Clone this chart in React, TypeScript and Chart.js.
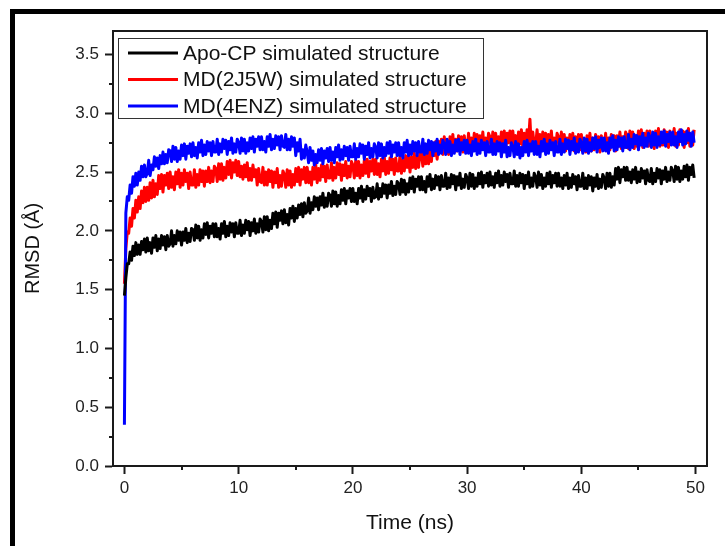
import React, { useEffect, useRef } from "react";
import { Chart, registerables } from "chart.js";

Chart.register(...registerables);

// ---- data (RMSD in Å, sampled every SAMPLE_INTERVAL_NS ns starting at 0 ns) ----
const SAMPLE_INTERVAL_NS = 0.125;

const SERIES_LABELS = [
  "Apo-CP simulated structure",
  "MD(2J5W) simulated structure",
  "MD(4ENZ) simulated structure",
];
const SERIES_COLORS = ["#000000", "#ff0000", "#0000ff"];

const APO_CP = [
  1.45, 1.60, 1.72, 1.72, 1.82, 1.75, 1.87, 1.79, 1.90, 1.80, 1.88, 1.80, 1.91, 1.84, 1.93, 1.82,
  1.94, 1.83, 1.90, 1.81, 1.94, 1.86, 1.96, 1.83, 1.93, 1.85, 1.96, 1.88, 1.95, 1.84, 1.96, 1.87,
  1.89, 2.00, 1.87, 1.96, 1.89, 2.00, 1.92, 1.99, 1.88, 1.99, 1.92, 2.02, 1.90, 1.98, 1.91, 2.02,
  2.01, 1.92, 2.05, 1.94, 2.04, 1.92, 2.01, 1.94, 2.06, 1.97, 2.07, 1.94, 2.04, 1.98, 2.06, 1.95,
  2.06, 1.95, 2.02, 1.93, 2.06, 1.98, 2.08, 1.95, 2.04, 1.96, 2.07, 1.99, 2.06, 1.95, 2.07, 1.98,
  1.98, 2.09, 1.96, 2.05, 1.98, 2.09, 2.01, 2.08, 1.96, 2.07, 2.00, 2.10, 1.98, 2.06, 1.99, 2.10,
  2.08, 1.99, 2.12, 2.01, 2.12, 2.00, 2.09, 2.02, 2.15, 2.06, 2.16, 2.03, 2.15, 2.09, 2.17, 2.06,
  2.18, 2.07, 2.14, 2.05, 2.19, 2.11, 2.21, 2.08, 2.19, 2.11, 2.22, 2.14, 2.23, 2.12, 2.24, 2.15,
  2.17, 2.28, 2.15, 2.24, 2.18, 2.29, 2.21, 2.28, 2.18, 2.29, 2.22, 2.32, 2.20, 2.28, 2.21, 2.32,
  2.30, 2.21, 2.34, 2.23, 2.33, 2.21, 2.30, 2.23, 2.35, 2.26, 2.36, 2.23, 2.34, 2.28, 2.36, 2.25,
  2.36, 2.25, 2.32, 2.23, 2.36, 2.28, 2.38, 2.25, 2.35, 2.27, 2.38, 2.30, 2.36, 2.25, 2.37, 2.28,
  2.29, 2.40, 2.27, 2.36, 2.29, 2.40, 2.32, 2.39, 2.28, 2.39, 2.32, 2.42, 2.30, 2.38, 2.31, 2.42,
  2.40, 2.31, 2.44, 2.33, 2.43, 2.31, 2.40, 2.33, 2.45, 2.36, 2.46, 2.33, 2.44, 2.38, 2.46, 2.35,
  2.46, 2.35, 2.42, 2.33, 2.46, 2.38, 2.48, 2.35, 2.44, 2.36, 2.47, 2.39, 2.46, 2.35, 2.47, 2.38,
  2.38, 2.49, 2.36, 2.45, 2.37, 2.48, 2.40, 2.47, 2.35, 2.46, 2.39, 2.49, 2.36, 2.44, 2.37, 2.48,
  2.45, 2.36, 2.49, 2.38, 2.48, 2.36, 2.45, 2.38, 2.49, 2.40, 2.50, 2.37, 2.47, 2.41, 2.49, 2.38,
  2.50, 2.39, 2.46, 2.37, 2.49, 2.41, 2.51, 2.38, 2.47, 2.39, 2.50, 2.42, 2.48, 2.37, 2.49, 2.40,
  2.40, 2.51, 2.38, 2.47, 2.38, 2.49, 2.41, 2.48, 2.36, 2.47, 2.40, 2.50, 2.37, 2.45, 2.38, 2.49,
  2.46, 2.37, 2.50, 2.39, 2.48, 2.36, 2.45, 2.38, 2.49, 2.40, 2.50, 2.37, 2.47, 2.41, 2.49, 2.38,
  2.49, 2.38, 2.45, 2.36, 2.47, 2.39, 2.49, 2.36, 2.45, 2.37, 2.48, 2.40, 2.46, 2.35, 2.47, 2.38,
  2.38, 2.49, 2.36, 2.45, 2.36, 2.47, 2.39, 2.46, 2.34, 2.45, 2.38, 2.48, 2.36, 2.44, 2.37, 2.48,
  2.45, 2.36, 2.49, 2.38, 2.49, 2.37, 2.46, 2.39, 2.53, 2.44, 2.54, 2.41, 2.52, 2.46, 2.54, 2.43,
  2.54, 2.43, 2.50, 2.41, 2.52, 2.44, 2.54, 2.41, 2.50, 2.42, 2.53, 2.45, 2.51, 2.40, 2.52, 2.43,
  2.42, 2.53, 2.40, 2.49, 2.42, 2.53, 2.45, 2.52, 2.40, 2.51, 2.44, 2.54, 2.42, 2.50, 2.43, 2.54,
  2.51, 2.42, 2.55, 2.44, 2.54, 2.42, 2.51, 2.44, 2.55, 2.46, 2.56, 2.43, 2.54, 2.48, 2.56, 2.45,
];

const MD_2J5W = [
  1.55, 1.85, 1.99, 1.98, 2.11, 2.04, 2.19, 2.11, 2.26, 2.16, 2.29, 2.19, 2.34, 2.24, 2.37, 2.25,
  2.37, 2.26, 2.41, 2.28, 2.43, 2.29, 2.40, 2.31, 2.47, 2.36, 2.48, 2.33, 2.47, 2.39, 2.49, 2.36,
  2.50, 2.37, 2.46, 2.35, 2.50, 2.40, 2.52, 2.37, 2.49, 2.39, 2.52, 2.42, 2.49, 2.36, 2.50, 2.39,
  2.39, 2.52, 2.37, 2.48, 2.39, 2.52, 2.42, 2.51, 2.38, 2.51, 2.42, 2.54, 2.41, 2.51, 2.42, 2.55,
  2.53, 2.42, 2.57, 2.44, 2.57, 2.43, 2.54, 2.45, 2.59, 2.48, 2.60, 2.45, 2.58, 2.50, 2.60, 2.47,
  2.59, 2.46, 2.55, 2.44, 2.56, 2.46, 2.58, 2.43, 2.53, 2.43, 2.56, 2.46, 2.52, 2.39, 2.53, 2.42,
  2.41, 2.54, 2.39, 2.50, 2.39, 2.52, 2.42, 2.51, 2.37, 2.50, 2.41, 2.53, 2.37, 2.47, 2.38, 2.51,
  2.48, 2.37, 2.52, 2.39, 2.51, 2.37, 2.48, 2.39, 2.53, 2.42, 2.54, 2.39, 2.52, 2.44, 2.54, 2.41,
  2.54, 2.41, 2.50, 2.39, 2.54, 2.44, 2.56, 2.41, 2.53, 2.43, 2.56, 2.46, 2.55, 2.42, 2.56, 2.45,
  2.45, 2.58, 2.43, 2.54, 2.45, 2.58, 2.48, 2.57, 2.43, 2.56, 2.47, 2.59, 2.45, 2.55, 2.46, 2.59,
  2.56, 2.45, 2.60, 2.47, 2.59, 2.45, 2.56, 2.47, 2.60, 2.49, 2.61, 2.46, 2.59, 2.51, 2.61, 2.48,
  2.61, 2.48, 2.57, 2.46, 2.61, 2.51, 2.63, 2.48, 2.59, 2.49, 2.62, 2.52, 2.61, 2.48, 2.62, 2.51,
  2.51, 2.64, 2.49, 2.60, 2.51, 2.64, 2.54, 2.63, 2.50, 2.63, 2.54, 2.66, 2.53, 2.63, 2.54, 2.67,
  2.66, 2.55, 2.70, 2.57, 2.71, 2.57, 2.68, 2.59, 2.75, 2.64, 2.76, 2.61, 2.76, 2.68, 2.78, 2.65,
  2.80, 2.67, 2.76, 2.65, 2.80, 2.70, 2.82, 2.67, 2.78, 2.68, 2.81, 2.71, 2.80, 2.67, 2.81, 2.70,
  2.70, 2.83, 2.68, 2.79, 2.70, 2.83, 2.73, 2.82, 2.68, 2.81, 2.72, 2.84, 2.69, 2.79, 2.70, 2.83,
  2.80, 2.69, 2.84, 2.71, 2.83, 2.69, 2.80, 2.71, 2.84, 2.73, 2.85, 2.70, 2.83, 2.75, 2.85, 2.72,
  2.85, 2.72, 2.81, 2.70, 2.84, 2.74, 2.86, 2.71, 2.83, 2.73, 2.86, 2.76, 2.95, 2.70, 2.84, 2.73,
  2.73, 2.86, 2.71, 2.82, 2.71, 2.84, 2.74, 2.83, 2.69, 2.82, 2.73, 2.85, 2.69, 2.79, 2.70, 2.83,
  2.80, 2.69, 2.84, 2.71, 2.82, 2.68, 2.79, 2.70, 2.82, 2.71, 2.83, 2.68, 2.80, 2.72, 2.82, 2.69,
  2.82, 2.69, 2.78, 2.67, 2.81, 2.71, 2.83, 2.68, 2.79, 2.69, 2.82, 2.72, 2.80, 2.67, 2.81, 2.70,
  2.70, 2.83, 2.68, 2.79, 2.69, 2.82, 2.72, 2.81, 2.68, 2.81, 2.72, 2.84, 2.70, 2.80, 2.71, 2.84,
  2.81, 2.70, 2.85, 2.72, 2.84, 2.70, 2.81, 2.72, 2.85, 2.74, 2.86, 2.71, 2.83, 2.75, 2.85, 2.72,
  2.85, 2.72, 2.81, 2.70, 2.85, 2.75, 2.87, 2.72, 2.83, 2.73, 2.86, 2.76, 2.84, 2.71, 2.85, 2.74,
  2.74, 2.87, 2.72, 2.83, 2.73, 2.86, 2.76, 2.85, 2.71, 2.84, 2.75, 2.87, 2.72, 2.82, 2.73, 2.86,
];

const MD_4ENZ = [
  0.35, 2.15, 2.29, 2.26, 2.39, 2.32, 2.46, 2.38, 2.49, 2.39, 2.50, 2.43, 2.55, 2.46, 2.56, 2.46,
  2.49, 2.60, 2.47, 2.56, 2.52, 2.63, 2.55, 2.62, 2.53, 2.64, 2.57, 2.67, 2.57, 2.65, 2.58, 2.69,
  2.68, 2.59, 2.72, 2.61, 2.71, 2.59, 2.68, 2.61, 2.73, 2.64, 2.74, 2.61, 2.72, 2.66, 2.74, 2.63,
  2.75, 2.64, 2.71, 2.62, 2.75, 2.67, 2.77, 2.64, 2.73, 2.65, 2.76, 2.68, 2.75, 2.64, 2.76, 2.67,
  2.67, 2.78, 2.65, 2.74, 2.67, 2.78, 2.70, 2.77, 2.65, 2.76, 2.69, 2.79, 2.66, 2.74, 2.67, 2.78,
  2.75, 2.66, 2.79, 2.68, 2.78, 2.66, 2.75, 2.68, 2.79, 2.70, 2.80, 2.67, 2.78, 2.72, 2.80, 2.69,
  2.80, 2.69, 2.76, 2.67, 2.80, 2.72, 2.82, 2.69, 2.78, 2.70, 2.81, 2.73, 2.80, 2.69, 2.81, 2.72,
  2.71, 2.82, 2.69, 2.78, 2.69, 2.80, 2.72, 2.79, 2.64, 2.75, 2.68, 2.78, 2.61, 2.69, 2.62, 2.73,
  2.67, 2.58, 2.71, 2.60, 2.68, 2.56, 2.65, 2.58, 2.69, 2.60, 2.70, 2.57, 2.68, 2.62, 2.70, 2.59,
  2.71, 2.60, 2.67, 2.58, 2.71, 2.63, 2.73, 2.60, 2.69, 2.61, 2.72, 2.64, 2.71, 2.60, 2.72, 2.63,
  2.63, 2.74, 2.61, 2.70, 2.63, 2.74, 2.66, 2.73, 2.61, 2.72, 2.65, 2.75, 2.62, 2.70, 2.63, 2.74,
  2.71, 2.62, 2.75, 2.64, 2.74, 2.62, 2.71, 2.64, 2.75, 2.66, 2.76, 2.63, 2.73, 2.67, 2.75, 2.64,
  2.75, 2.64, 2.71, 2.62, 2.75, 2.67, 2.77, 2.64, 2.73, 2.65, 2.76, 2.68, 2.75, 2.64, 2.76, 2.67,
  2.67, 2.78, 2.65, 2.74, 2.66, 2.77, 2.69, 2.76, 2.64, 2.75, 2.68, 2.78, 2.65, 2.73, 2.66, 2.77,
  2.74, 2.65, 2.78, 2.67, 2.76, 2.64, 2.73, 2.66, 2.77, 2.68, 2.78, 2.65, 2.75, 2.69, 2.77, 2.66,
  2.77, 2.66, 2.73, 2.64, 2.76, 2.68, 2.78, 2.65, 2.74, 2.66, 2.77, 2.69, 2.75, 2.64, 2.76, 2.67,
  2.67, 2.78, 2.65, 2.74, 2.65, 2.76, 2.68, 2.75, 2.63, 2.74, 2.67, 2.77, 2.63, 2.71, 2.64, 2.75,
  2.72, 2.63, 2.76, 2.65, 2.74, 2.62, 2.71, 2.64, 2.76, 2.67, 2.77, 2.64, 2.74, 2.68, 2.76, 2.65,
  2.76, 2.65, 2.72, 2.63, 2.76, 2.68, 2.78, 2.65, 2.74, 2.66, 2.77, 2.69, 2.75, 2.64, 2.76, 2.67,
  2.67, 2.78, 2.65, 2.74, 2.67, 2.78, 2.70, 2.77, 2.65, 2.76, 2.69, 2.79, 2.66, 2.74, 2.67, 2.78,
  2.75, 2.66, 2.79, 2.68, 2.78, 2.66, 2.75, 2.68, 2.79, 2.70, 2.80, 2.67, 2.77, 2.71, 2.79, 2.68,
  2.79, 2.68, 2.75, 2.66, 2.79, 2.71, 2.81, 2.68, 2.77, 2.69, 2.80, 2.72, 2.79, 2.68, 2.80, 2.71,
  2.71, 2.82, 2.69, 2.78, 2.71, 2.82, 2.74, 2.81, 2.69, 2.80, 2.73, 2.83, 2.71, 2.79, 2.72, 2.83,
  2.80, 2.71, 2.84, 2.73, 2.83, 2.71, 2.80, 2.73, 2.84, 2.75, 2.85, 2.72, 2.82, 2.76, 2.84, 2.73,
  2.84, 2.73, 2.80, 2.71, 2.84, 2.76, 2.86, 2.73, 2.82, 2.74, 2.85, 2.77, 2.83, 2.72, 2.84, 2.75,
];

const X_TICKS = [0, 10, 20, 30, 40, 50];
const X_MINOR_TICKS = [5, 15, 25, 35, 45];
const Y_TICKS = [0, 0.5, 1.0, 1.5, 2.0, 2.5, 3.0, 3.5];
const Y_MINOR_TICKS = [0.25, 0.75, 1.25, 1.75, 2.25, 2.75, 3.25];
const X_MIN = -1;
const X_MAX = 51;
const Y_MIN = 0;
const Y_MAX = 3.7;

const X_TITLE = "Time (ns)";
const Y_TITLE = "RMSD (Å)";

const FONT = '"Liberation Sans", Arial, Helvetica, sans-serif';
const AXIS_COLOR = "#1a1a1a";
const TEXT_COLOR = "#222222";

const toPoints = (values: number[]) =>
  values.map((y, i) => ({ x: i * SAMPLE_INTERVAL_NS, y }));

const frameAndMinorTicks = {
  id: "frameAndMinorTicks",
  afterDraw(chart: any) {
    const { ctx, chartArea } = chart;
    const xs = chart.scales.x;
    const ys = chart.scales.y;
    ctx.save();
    ctx.strokeStyle = AXIS_COLOR;
    ctx.lineWidth = 2;
    ctx.beginPath();
    ctx.moveTo(chartArea.left, chartArea.top);
    ctx.lineTo(chartArea.right, chartArea.top);
    ctx.lineTo(chartArea.right, chartArea.bottom);
    ctx.stroke();
    ctx.beginPath();
    X_MINOR_TICKS.forEach((v) => {
      const px = Math.round(xs.getPixelForValue(v));
      ctx.moveTo(px, chartArea.bottom);
      ctx.lineTo(px, chartArea.bottom + 4);
    });
    Y_MINOR_TICKS.forEach((v) => {
      const py = Math.round(ys.getPixelForValue(v));
      ctx.moveTo(chartArea.left, py);
      ctx.lineTo(chartArea.left - 4, py);
    });
    ctx.stroke();
    ctx.restore();
  },
};

const insideLegend = {
  id: "insideLegend",
  afterDraw(chart: any) {
    const { ctx, chartArea } = chart;
    const x0 = chartArea.left + 5;
    const y0 = chartArea.top + 7;
    const w = 365;
    const h = 80;
    ctx.save();
    ctx.fillStyle = "#ffffff";
    ctx.fillRect(x0, y0, w, h);
    ctx.strokeStyle = "#333333";
    ctx.lineWidth = 1;
    ctx.strokeRect(x0 + 0.5, y0 + 0.5, w, h);
    ctx.font = `21px ${FONT}`;
    ctx.textBaseline = "middle";
    ctx.textAlign = "left";
    chart.data.datasets.forEach((ds: any, i: number) => {
      const cy = y0 + 15 + i * 26.5;
      ctx.strokeStyle = ds.borderColor;
      ctx.lineWidth = 3;
      ctx.beginPath();
      ctx.moveTo(x0 + 10, cy);
      ctx.lineTo(x0 + 60, cy);
      ctx.stroke();
      ctx.fillStyle = "#111111";
      ctx.fillText(ds.label, x0 + 65, cy + 1);
    });
    ctx.restore();
  },
};

export default function App() {
  const canvasRef = useRef<HTMLCanvasElement | null>(null);

  useEffect(() => {
    const canvas = canvasRef.current;
    if (!canvas) return;
    const seriesValues = [APO_CP, MD_2J5W, MD_4ENZ];
    // lower order is drawn on top: black on top, then blue, red underneath
    const drawOrder = [0, 2, 1];
    const chart = new Chart(canvas, {
      type: "line",
      data: {
        datasets: seriesValues.map((vals, i) => ({
          label: SERIES_LABELS[i],
          data: toPoints(vals),
          borderColor: SERIES_COLORS[i],
          backgroundColor: SERIES_COLORS[i],
          borderWidth: 3,
          pointRadius: 0,
          tension: 0,
          fill: false,
          borderJoinStyle: "round" as const,
          order: drawOrder[i],
        })),
      },
      options: {
        animation: false,
        responsive: false,
        devicePixelRatio: 1,
        layout: { padding: { left: 6, top: 17, right: 18, bottom: 10 } },
        plugins: {
          legend: { display: false },
          tooltip: { enabled: false },
        },
        scales: {
          x: {
            type: "linear",
            min: X_MIN,
            max: X_MAX,
            afterBuildTicks: (scale: any) => {
              scale.ticks = X_TICKS.map((value) => ({ value }));
            },
            afterFit: (scale: any) => {
              scale.height = 70;
            },
            border: { display: true, color: AXIS_COLOR, width: 2 },
            grid: {
              display: true,
              drawOnChartArea: false,
              drawTicks: true,
              tickLength: 8,
              tickWidth: 2,
              tickColor: AXIS_COLOR,
            },
            ticks: {
              color: TEXT_COLOR,
              font: { family: FONT, size: 17 },
              padding: 4,
              maxRotation: 0,
              autoSkip: false,
              callback: (v: any) => String(v),
            },
            title: {
              display: true,
              text: X_TITLE,
              color: "#111111",
              font: { family: FONT, size: 21 },
              padding: 0,
            },
          },
          y: {
            type: "linear",
            min: Y_MIN,
            max: Y_MAX,
            afterBuildTicks: (scale: any) => {
              scale.ticks = Y_TICKS.map((value) => ({ value }));
            },
            afterFit: (scale: any) => {
              scale.width = 92;
            },
            border: { display: true, color: AXIS_COLOR, width: 2 },
            grid: {
              display: true,
              drawOnChartArea: false,
              drawTicks: true,
              tickLength: 8,
              tickWidth: 2,
              tickColor: AXIS_COLOR,
            },
            ticks: {
              color: TEXT_COLOR,
              font: { family: FONT, size: 17 },
              padding: 6,
              autoSkip: false,
              callback: (v: any) => Number(v).toFixed(1),
            },
            title: {
              display: true,
              text: Y_TITLE,
              color: "#111111",
              font: { family: FONT, size: 20 },
              padding: 0,
            },
          },
        },
      },
      plugins: [frameAndMinorTicks, insideLegend],
    });
    return () => chart.destroy();
  }, []);

  return (
    <div
      style={{
        position: "fixed",
        left: 0,
        top: 0,
        width: 725,
        height: 546,
        overflow: "hidden",
        background: "#ffffff",
      }}
    >
      <div
        style={{
          position: "absolute",
          left: 10,
          top: 9,
          width: 800,
          height: 600,
          borderLeft: "5px solid #000",
          borderTop: "5px solid #000",
        }}
      />
      <canvas
        ref={canvasRef}
        width={710}
        height={532}
        style={{ position: "absolute", left: 15, top: 14, width: 710, height: 532 }}
      />
    </div>
  );
}
